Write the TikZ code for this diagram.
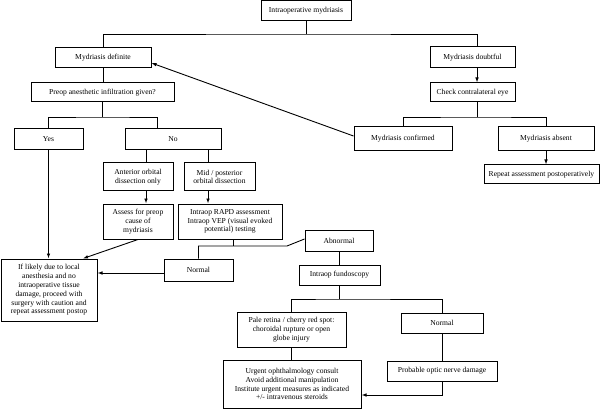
\documentclass[tikz,border=0pt]{standalone}
\usepackage{fontspec}
\setmainfont{Liberation Serif}
\newfontfamily\tnr{Liberation Serif}
\usetikzlibrary{arrows.meta}
\tikzset{
  box/.style={draw, line width=1pt, align=center, inner sep=0pt,
    font=\tnr\fontsize{7.6}{8.8}\selectfont},
  link/.style={line width=0.9pt},
  arr/.style={line width=0.9pt, -{Latex[length=5pt,width=3.6pt]}}
}
\newcommand{\bx}[6]{\node[box, minimum width=#4pt, minimum height=#5pt] (#1) at (#2,#3) {#6};}
\begin{document}
\begin{tikzpicture}[x=1pt,y=-1pt]
\useasboundingbox (0,0) rectangle (608,409);
\bx{top}{306}{11}{90}{20}{Intraoperative mydriasis}
\bx{def}{103}{58}{96}{20}{Mydriasis definite}
\bx{doubt}{472.5}{57.5}{85}{21}{Mydriasis doubtful}
\bx{check}{472.5}{92.5}{85}{19}{Check contralateral eye}
\bx{conf}{403}{139}{98}{24}{Mydriasis confirmed}
\bx{absent}{546}{139}{96}{24}{Mydriasis absent}
\bx{repeat}{541.5}{174.5}{115}{19}{Repeat assessment postoperatively}
\bx{preop}{102.5}{92.5}{143}{19}{Preop anesthetic infiltration given?}
\bx{yes}{48.5}{139.5}{69}{21}{Yes}
\bx{no}{173}{139.5}{96}{21}{No}
\bx{ant}{138}{177}{70}{28}{Anterior orbital\\dissection only}
\bx{mid}{219.5}{177}{71}{28}{Mid / posterior\\orbital dissection}
\bx{assess}{138}{221.5}{70}{35}{Assess for preop\\cause of\\mydriasis}
\bx{rapd}{230}{221.5}{104}{35}{Intraop RAPD assessment\\Intraop VEP (visual evoked\\potential) testing}
\bx{likely}{49}{290}{96}{62}{If likely due to local\\anesthesia and no\\intraoperative tissue\\damage, proceed with\\surgery with caution and\\repeat assessment postop}
\bx{normL}{198.5}{270}{69}{22}{Normal}
\bx{abn}{339}{240.5}{68}{21}{Abnormal}
\bx{fundo}{339.5}{275}{81}{20}{Intraop fundoscopy}
\bx{pale}{291.5}{329.5}{109}{35}{Pale retina / cherry red spot:\\choroidal rupture or open\\globe injury}
\bx{normR}{442}{323}{82}{20}{Normal}
\bx{prob}{442}{371}{110}{20}{Probable optic nerve damage}
\bx{urgent}{292}{384}{138}{48}{Urgent ophthalmology consult\\Avoid additional manipulation\\Institute urgent measures as indicated\\+/- intravenous steroids}
% junctions
\coordinate (j1) at (306,34);
\coordinate (j2) at (477,117);
\coordinate (j3) at (102.5,117);
\coordinate (j4) at (233,246);
\coordinate (k4) at (287,246);
\coordinate (j5) at (339.5,299);
% top split
\draw[link] (top.south) -- (j1);
\draw[link] (def.north) |- (j1) -| ([xshift=4.5pt]doubt.north);
\draw[arr] ([xshift=4.5pt]doubt.south) -- ([xshift=4.5pt]check.north);
\draw[link] ([xshift=4.5pt]check.south) -- (j2);
\draw[link] (conf.north) |- (j2) -| (absent.north);
\draw[arr] (absent.south) -- (absent.south |- repeat.north);
\draw[arr] ([yshift=3pt]conf.west) -- ([yshift=-5pt]def.east);
% left branch
\draw[link] (def.south) -- (def.south |- preop.north);
\draw[link] (preop.south) -- (j3);
\draw[link] (yes.north) |- (j3) -| ([xshift=-16pt]no.north);
\draw[link] ([xshift=8pt]ant.north) -- ([xshift=8pt]ant.north |- no.south);
\draw[link] ([xshift=-11.5pt]mid.north) -- ([xshift=-11.5pt]mid.north |- no.south);
\draw[arr] ([xshift=8pt]ant.south) -- ([xshift=8pt]assess.north);
\draw[arr] ([xshift=-11.5pt]mid.south) -- ([xshift=-11.5pt]mid.south |- rapd.north);
\draw[arr] (assess.south) -- ([xshift=34pt]likely.north);
\draw[arr] (yes.south) -- (yes.south |- likely.north);
\draw[link] ([xshift=3pt]rapd.south) -- (j4);
\draw[link] (normL.north) |- (j4) -- (k4) -- ([yshift=1.5pt]abn.west);
\draw[arr] ([yshift=-3pt]normL.west) -- ([yshift=-3pt]normL.west -| likely.east);
\draw[link] (abn.south) -- (abn.south |- fundo.north);
\draw[link] (fundo.south) -- (j5);
\draw[link] (pale.north) |- (j5) -| (normR.north);
\draw[link] (normR.south) -- (prob.north);
\draw[link] (pale.south) -- (pale.south |- urgent.north);
\draw[arr] (prob.south) |- ([yshift=-11pt]urgent.east);
\end{tikzpicture}
\end{document}
